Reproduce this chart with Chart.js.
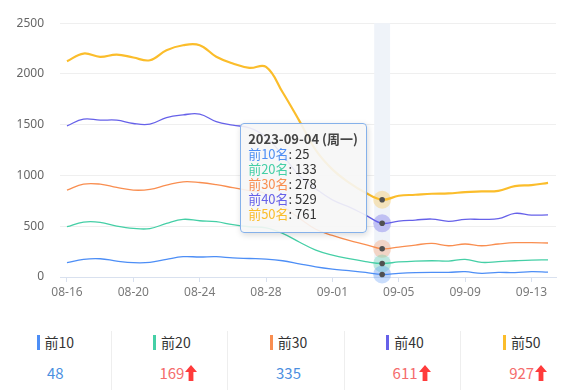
<!DOCTYPE html>
<html>
<head>
<meta charset="utf-8">
<script src="https://cdn.jsdelivr.net/npm/chart.js@4.4.0/dist/chart.umd.min.js"></script>
<style>
    body { margin: 0; background: #fff; font-family: 'Noto Sans CJK SC', 'Noto Sans', sans-serif; }
    #wrap { position: relative; width: 581px; height: 390px; overflow: hidden; }
    #chartBox { position: absolute; left: 0; top: 0; width: 581px; height: 310px; }
    #tip {
        position: absolute; display: none; width: 127px; box-sizing: border-box;
        padding: 7px 8px 11px 7px; background: rgba(246, 246, 246, 0.9);
        border: 1px solid #85b1ea; border-radius: 4px; box-shadow: 1px 2px 6px rgba(0, 0, 0, 0.15);
        font-size: 13px; line-height: 15px; color: #333; white-space: nowrap; pointer-events: none;
    }
    #tip .t { font-weight: bold; color: #444; }
    .stats { position: absolute; left: -5px; top: 331px; width: 582px; height: 59px; display: flex; }
    .cell { flex: 1; border-right: 1px solid #eeeeee; text-align: center; padding-left: 5px; box-sizing: border-box; }
    .cell:last-child { border-right: none; }
    .head { height: 22px; line-height: 22px; font-size: 14px; color: #333; display: flex; justify-content: center; align-items: center; }
    .head i { display: inline-block; width: 3px; height: 15px; margin-right: 5px; }
    .val { margin-top: 9px; height: 22px; line-height: 22px; font-size: 15px; }
    .val span { position: relative; display: inline-block; }
    .val svg { position: absolute; left: 100%; top: 3px; margin-left: 1px; }
</style>
</head>
<body>
<div id="wrap">
    <div id="chartBox"><canvas id="grafico" width="581" height="310"></canvas></div>
    <div id="tip"></div>
    <div class="stats" id="stats"></div>
</div>
<script>
// datos
const year = '2023';
const dates = ['08-16', '08-17', '08-18', '08-19', '08-20', '08-21', '08-22', '08-23', '08-24', '08-25',
    '08-26', '08-27', '08-28', '08-29', '08-30', '08-31', '09-01', '09-02', '09-03', '09-04',
    '09-05', '09-06', '09-07', '09-08', '09-09', '09-10', '09-11', '09-12', '09-13', '09-14'];
const top10 = [141, 174, 180, 157, 141, 144, 174, 200, 197, 200, 188, 182, 176, 160, 130, 100, 78, 62, 45, 25,
    36, 43, 46, 46, 52, 36, 46, 43, 52, 48];
const top20 = [495, 541, 539, 502, 479, 477, 528, 568, 554, 545, 515, 495, 485, 430, 345, 265, 215, 180, 152, 133,
    148, 157, 160, 157, 174, 144, 151, 160, 167, 169];
const top30 = [856, 915, 915, 882, 856, 863, 905, 938, 931, 910, 880, 850, 820, 700, 580, 470, 410, 360, 320, 278,
    295, 315, 331, 308, 325, 308, 325, 338, 338, 335];
const top40 = [1489, 1555, 1545, 1545, 1512, 1506, 1571, 1597, 1604, 1530, 1495, 1470, 1380, 1200, 1000, 870, 760, 690, 610, 529,
    551, 561, 571, 548, 568, 568, 574, 627, 610, 611];
const top50 = [2125, 2201, 2168, 2191, 2162, 2135, 2234, 2283, 2283, 2170, 2103, 2060, 2070, 1820, 1540, 1250, 1060, 930, 830, 761,
    800, 810, 820, 823, 836, 843, 849, 895, 905, 927];
const seriesNames = ['前10名', '前20名', '前30名', '前40名', '前50名'];
const shortNames = ['前10', '前20', '前30', '前40', '前50'];
const yTicks = [0, 500, 1000, 1500, 2000, 2500];
const xTickEvery = 4;
const activeIdx = dates.indexOf('09-04');
const weekNames = ['周日', '周一', '周二', '周三', '周四', '周五', '周六'];

const series = [top10, top20, top30, top40, top50];
const colors = ['#4d8ef6', '#45cfa6', '#f98e50', '#6661e9', '#fbbd2b'];
const haloColors = ['rgba(77,142,246,0.3)', 'rgba(69,207,166,0.3)', 'rgba(249,142,80,0.3)', 'rgba(102,97,233,0.35)', 'rgba(251,189,43,0.3)'];

// banda y halos del punto activo
const marcaActiva = {
    id: 'marcaActiva',
    beforeDatasetsDraw(chart) {
        const c = chart.ctx, xs = chart.scales.x, a = chart.chartArea;
        const x0 = xs.getPixelForValue(activeIdx - 0.48), x1 = xs.getPixelForValue(activeIdx + 0.48);
        c.save();
        c.fillStyle = '#eff3f9';
        c.fillRect(x0, a.top, x1 - x0, a.bottom - a.top);
        c.restore();
    },
    afterDatasetsDraw(chart) {
        const c = chart.ctx;
        c.save();
        for (let i = series.length - 1; i >= 0; i--) {
            const p = chart.getDatasetMeta(i).data[activeIdx];
            c.beginPath();
            c.arc(p.x, p.y, 9, 0, Math.PI * 2);
            c.fillStyle = haloColors[i];
            c.fill();
        }
        for (let i = 0; i < series.length; i++) {
            const p = chart.getDatasetMeta(i).data[activeIdx];
            c.beginPath();
            c.arc(p.x, p.y, 2.8, 0, Math.PI * 2);
            c.fillStyle = '#505050';
            c.fill();
        }
        c.restore();
    }
};

function tooltipExterno(context) {
    const tip = context.tooltip;
    const el = document.getElementById('tip');
    if (!tip.dataPoints || !tip.dataPoints.length) { el.style.display = 'none'; return; }
    const idx = tip.dataPoints[0].dataIndex;
    const d = new Date(year + '-' + dates[idx] + 'T00:00:00');
    let html = '<div class="t">' + year + '-' + dates[idx] + ' (' + weekNames[d.getDay()] + ')</div>';
    tip.dataPoints.forEach(dp => {
        html += '<div><span style="color:' + colors[dp.datasetIndex] + '">' + dp.dataset.label + '</span>: ' + dp.parsed.y + '</div>';
    });
    el.innerHTML = html;
    el.style.display = 'block';
    el.style.left = (tip.caretX - 15 - el.offsetWidth) + 'px';
    el.style.top = (context.chart.chartArea.top + 100) + 'px';
}

const ctx = document.getElementById('grafico').getContext('2d');
const chart = new Chart(ctx, {
    type: 'line',
    data: {
        datasets: series.map((s, i) => ({
            label: seriesNames[i],
            data: s.map((v, j) => ({ x: j, y: v })),
            borderColor: colors[i],
            backgroundColor: colors[i],
            borderWidth: i === 4 ? 2.2 : 1.3,
            tension: 0.4,
            pointRadius: 0,
            pointHoverRadius: 0,
            fill: false
        }))
    },
    options: {
        responsive: false,
        animation: false,
        layout: { padding: { top: 23, right: 25, left: 0, bottom: 0 } },
        interaction: { mode: 'index', intersect: false },
        scales: {
            x: {
                type: 'linear',
                min: -0.42,
                max: 29.48,
                afterBuildTicks: scale => {
                    scale.ticks = dates.map((_, i) => i).filter(i => i % xTickEvery === 0).map(v => ({ value: v }));
                },
                afterFit: scale => { scale.height = 33; },
                ticks: {
                    callback: v => dates[v],
                    color: '#7a7a7a',
                    font: { size: 12, family: "'Noto Sans', sans-serif" },
                    padding: 3,
                    maxRotation: 0,
                    autoSkip: false
                },
                grid: { drawOnChartArea: false, drawTicks: true, tickLength: 5, color: '#d9e1ef' },
                border: { color: '#d9e1ef' }
            },
            y: {
                min: yTicks[0],
                max: yTicks[yTicks.length - 1],
                afterBuildTicks: scale => { scale.ticks = yTicks.map(v => ({ value: v })); },
                afterFit: scale => { scale.width = 60; },
                ticks: {
                    callback: v => String(v),
                    color: '#666',
                    font: { size: 12, family: "'Noto Sans', sans-serif" },
                    padding: 16
                },
                grid: { color: '#efefef', drawTicks: false },
                border: { display: false }
            }
        },
        plugins: {
            legend: { display: false },
            tooltip: { enabled: false, external: tooltipExterno, position: 'average' }
        }
    },
    plugins: [marcaActiva]
});

const activos = series.map((s, i) => ({ datasetIndex: i, index: activeIdx }));
chart.setActiveElements(activos);
chart.tooltip.setActiveElements(activos, { x: 0, y: 0 });
chart.update();

// panel inferior con el último valor
const flecha = '<svg width="12" height="16" viewBox="0 0 12 16"><polygon points="6,0 12,7 8.4,7 8.4,16 3.6,16 3.6,7 0,7" fill="#ff3b3b"/></svg>';
const stats = document.getElementById('stats');
series.forEach((s, i) => {
    const ultimo = s[s.length - 1];
    const sube = ultimo > s[s.length - 2];
    const cell = document.createElement('div');
    cell.className = 'cell';
    cell.innerHTML = '<div class="head"><i style="background:' + colors[i] + '"></i>' + shortNames[i] + '</div>' +
        '<div class="val"><span style="color:' + (sube ? '#f56c6c' : '#4b8fdf') + '">' + ultimo + (sube ? flecha : '') + '</span></div>';
    stats.appendChild(cell);
});
</script>
</body>
</html>
